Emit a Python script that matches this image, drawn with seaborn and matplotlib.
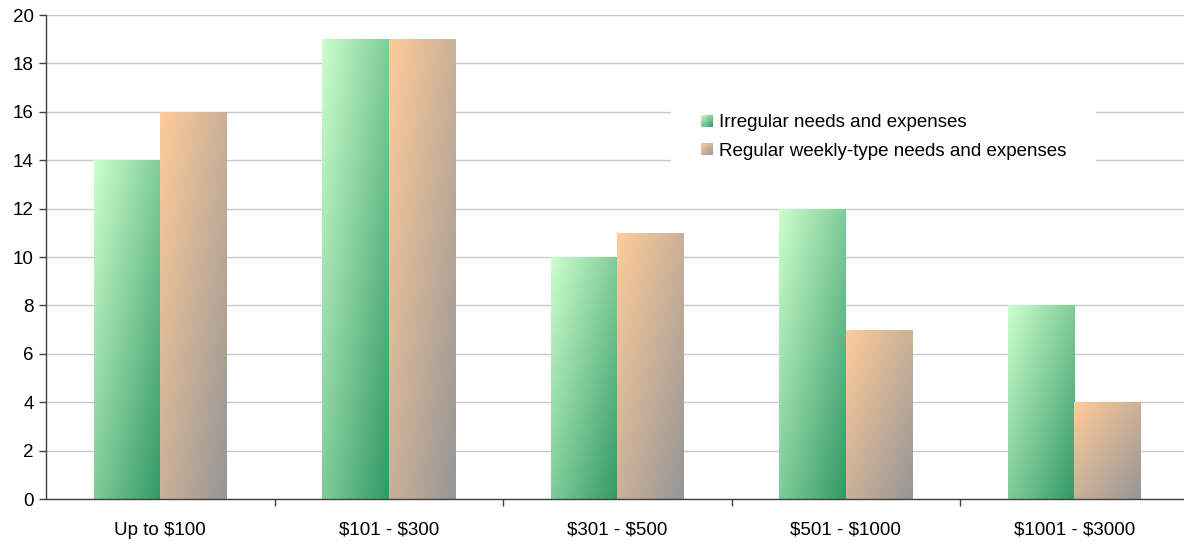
import numpy as np
import pandas as pd
import seaborn as sns
import matplotlib.pyplot as plt
from matplotlib.colors import LinearSegmentedColormap
from matplotlib.patches import Rectangle
from matplotlib.legend_handler import HandlerPatch

# Data
categories = ['Up to $100', '$101 - $300', '$301 - $500', '$501 - $1000', '$1001 - $3000']
irregular = [14, 19, 10, 12, 8]
regular = [16, 19, 11, 7, 4]
series_names = ['Irregular needs and expenses', 'Regular weekly-type needs and expenses']

df = pd.DataFrame({
    'category': categories * 2,
    'value': irregular + regular,
    'series': [series_names[0]] * 5 + [series_names[1]] * 5,
})

cmaps = {
    series_names[0]: LinearSegmentedColormap.from_list('g', ['#CCFFCC', '#339966']),
    series_names[1]: LinearSegmentedColormap.from_list('o', ['#FFCC99', '#969696']),
}

sns.set_style('white')
plt.rcParams['font.family'] = ['Liberation Sans', 'DejaVu Sans']
plt.rcParams['text.parse_math'] = False
plt.rcParams['text.color'] = 'black'
plt.rcParams['xtick.labelcolor'] = 'black'
plt.rcParams['ytick.labelcolor'] = 'black'

fig = plt.figure(figsize=(11.84, 5.44), dpi=100)
ax = fig.add_axes([0.0389, 0.0827, 0.965, 0.8897])

sns.barplot(data=df, x='category', y='value', hue='series', hue_order=series_names,
            width=0.582, gap=0, ax=ax, legend=False, edgecolor='none', linewidth=0)

# diagonal gradient: light at top-left, dark at bottom-right
u = np.linspace(0, 1, 64)
v = np.linspace(0, 1, 128)
U, V = np.meshgrid(u, v)
grad = (U + V) / 2  # row 0 = top in imshow with origin='upper'

n = len(categories)
for i, bar in enumerate(ax.patches):
    name = series_names[i // n]
    x0, y0 = bar.get_x(), bar.get_y()
    w, h = bar.get_width(), bar.get_height()
    if h <= 0:
        continue
    bar.set_facecolor('none')
    im = ax.imshow(grad, cmap=cmaps[name], extent=[x0, x0 + w, y0, y0 + h],
                   origin='upper', aspect='auto', zorder=2, interpolation='bilinear')
    im.set_clip_path(bar)

ax.set_xlim(-0.5, n - 0.5)
ax.set_ylim(0, 20)
ax.set_yticks(range(0, 21, 2))
ax.set_xlabel('')
ax.set_ylabel('')
ax.yaxis.grid(True, color='#C8C8C8', linewidth=1)
ax.set_axisbelow(True)

for s in ['top', 'right']:
    ax.spines[s].set_visible(False)
for s in ['left', 'bottom']:
    ax.spines[s].set_color('#404040')
    ax.spines[s].set_linewidth(1)

ax.tick_params(axis='y', which='major', left=True, length=5, width=1, color='#404040',
               labelsize=13.5, pad=4)
ax.tick_params(axis='x', which='major', bottom=False, labelsize=13.5, pad=13)
ax.set_xticks(np.arange(-0.5, n - 0.5) + 1, minor=True)
ax.set_xticks(np.arange(n))
ax.set_xticklabels(categories)
ax.tick_params(axis='x', which='minor', bottom=True, length=5, width=1, color='#404040')


class GradientHandler(HandlerPatch):
    def __init__(self, cmap):
        super().__init__()
        self.cmap = cmap

    def create_artists(self, legend, orig_handle, xdescent, ydescent, width, height, fontsize, trans):
        size = min(width, height)
        x0 = -xdescent + (width - size)
        y0 = -ydescent
        arts = []
        steps = 10
        for a in range(steps):
            for b in range(steps):
                t = ((a + 0.5) / steps + (1 - (b + 0.5) / steps)) / 2
                r = Rectangle((x0 + a * size / steps, y0 + b * size / steps), size / steps, size / steps,
                              facecolor=self.cmap(t), edgecolor='none', transform=trans)
                arts.append(r)
        return arts


handles = [Rectangle((0, 0), 1, 1) for _ in series_names]
leg = ax.legend(handles, series_names, loc='center left',
                bbox_to_anchor=(671 / 1184, 1 - 137 / 544), bbox_transform=fig.transFigure,
                frameon=True, fontsize=13.5, handlelength=0.64, handleheight=0.64, handletextpad=0.3,
                labelspacing=0.62, borderpad=1.6, borderaxespad=0, fancybox=False,
                handler_map={handles[0]: GradientHandler(cmaps[series_names[0]]),
                             handles[1]: GradientHandler(cmaps[series_names[1]])})
leg.get_frame().set_facecolor('white')
leg.get_frame().set_edgecolor('none')
leg.get_frame().set_alpha(1)

fig.savefig('out.png', dpi=100)
